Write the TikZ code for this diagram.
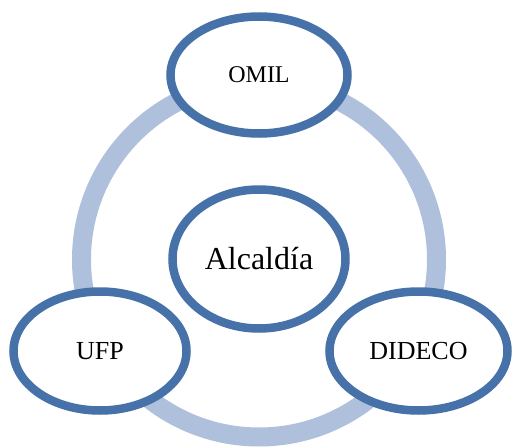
\documentclass[tikz,border=0pt]{standalone}
\usepackage{fontspec}
\setmainfont{Liberation Serif}
\usetikzlibrary{shapes.geometric,shadows}
\definecolor{ringblue}{HTML}{AEC0DC}
\definecolor{edgeblue}{HTML}{4672A9}
\tikzset{
  unit/.style={ellipse, draw=edgeblue, line width=8.5pt, fill=white, inner sep=0pt,
    drop shadow={shadow xshift=0pt, shadow yshift=-4pt, opacity=0.15, fill=black}},
  ring/.style={draw=ringblue, line width=19pt}
}
\begin{document}
\begin{tikzpicture}[x=1pt,y=-1pt]
\useasboundingbox (0,0) rectangle (512,447);
\coordinate (c) at (259,259.5);
\draw[ring] (c) circle[radius=177.5pt];
\node[unit, minimum width=177pt, minimum height=117pt, font=\fontsize{24}{28}\selectfont] (omil) at (259,75) {OMIL};
\node[unit, minimum width=173pt, minimum height=139pt, font=\fontsize{32}{38}\selectfont] (alc) at (259,259) {Alcaldía};
\node[unit, minimum width=173pt, minimum height=119pt, font=\fontsize{26}{30}\selectfont] (ufp) at (100,351) {UFP};
\node[unit, minimum width=178pt, minimum height=119pt, font=\fontsize{26}{30}\selectfont] (dideco) at (418.5,351) {DIDECO};
\end{tikzpicture}
\end{document}
